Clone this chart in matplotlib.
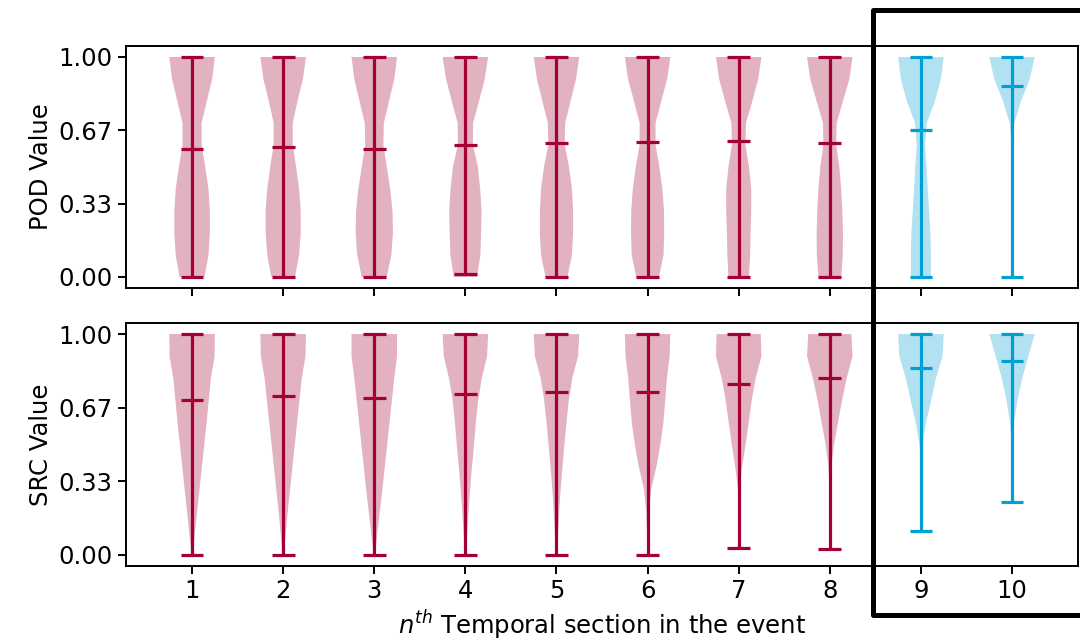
import numpy as np
import matplotlib.pyplot as plt
from matplotlib.lines import Line2D

# temporal sections (x positions)
sections = [1, 2, 3, 4, 5, 6, 7, 8, 9, 10]
levels = [0.0, 0.1, 0.2, 0.3, 0.4, 0.5, 0.6, 0.7, 0.8, 0.9, 1.0]

# POD panel
pod_mean = [0.58, 0.59, 0.58, 0.60, 0.61, 0.615, 0.62, 0.61, 0.67, 0.87]
pod_min = [0.0, 0.0, 0.0, 0.014, 0.0, 0.0, 0.0, 0.0, 0.0, 0.0]
pod_max = [1.0, 1.0, 1.0, 1.0, 1.0, 1.0, 1.0, 1.0, 1.0, 1.0]
pod_shape = [
    [0.55, 0.72, 0.78, 0.78, 0.72, 0.58, 0.42, 0.42, 0.65, 0.88, 1.0],
    [0.52, 0.70, 0.77, 0.77, 0.70, 0.57, 0.42, 0.42, 0.63, 0.87, 1.0],
    [0.55, 0.75, 0.82, 0.80, 0.70, 0.55, 0.40, 0.42, 0.65, 0.88, 1.0],
    [0.51, 0.66, 0.69, 0.71, 0.65, 0.55, 0.33, 0.34, 0.60, 0.85, 1.0],
    [0.48, 0.68, 0.73, 0.73, 0.68, 0.55, 0.36, 0.38, 0.62, 0.86, 1.0],
    [0.50, 0.70, 0.73, 0.72, 0.65, 0.52, 0.35, 0.35, 0.60, 0.86, 1.0],
    [0.45, 0.50, 0.52, 0.55, 0.55, 0.45, 0.30, 0.32, 0.60, 0.86, 1.0],
    [0.50, 0.57, 0.58, 0.55, 0.50, 0.42, 0.28, 0.30, 0.58, 0.86, 1.0],
    [0.44, 0.44, 0.42, 0.36, 0.30, 0.25, 0.18, 0.26, 0.62, 0.88, 1.0],
    [0.0, 0.0, 0.0, 0.0, 0.0, 0.0, 0.02, 0.10, 0.40, 0.78, 1.0],
]

# SRC panel
src_mean = [0.70, 0.72, 0.71, 0.73, 0.74, 0.74, 0.776, 0.80, 0.845, 0.88]
src_min = [0.0, 0.0, 0.0, 0.0, 0.0, 0.0, 0.03, 0.025, 0.11, 0.24]
src_max = [1.0, 1.0, 1.0, 1.0, 1.0, 1.0, 1.0, 1.0, 1.0, 1.0]
src_shape = [
    [0.03, 0.12, 0.22, 0.32, 0.42, 0.52, 0.62, 0.71, 0.80, 0.96, 0.97],
    [0.03, 0.11, 0.20, 0.30, 0.40, 0.50, 0.60, 0.70, 0.80, 0.96, 0.98],
    [0.03, 0.13, 0.24, 0.35, 0.45, 0.55, 0.65, 0.75, 0.85, 0.97, 0.97],
    [0.03, 0.08, 0.14, 0.21, 0.29, 0.38, 0.46, 0.56, 0.72, 0.95, 1.0],
    [0.03, 0.07, 0.12, 0.18, 0.26, 0.34, 0.43, 0.53, 0.68, 0.93, 0.98],
    [0.0, 0.02, 0.06, 0.16, 0.38, 0.55, 0.68, 0.76, 0.83, 0.95, 0.98],
    [0.0, 0.0, 0.01, 0.03, 0.15, 0.30, 0.43, 0.56, 0.73, 0.98, 0.95],
    [0.0, 0.0, 0.0, 0.01, 0.06, 0.18, 0.35, 0.52, 0.72, 0.97, 0.92],
    [0.0, 0.0, 0.0, 0.0, 0.01, 0.06, 0.23, 0.45, 0.66, 0.95, 1.0],
    [0.0, 0.0, 0.0, 0.0, 0.0, 0.02, 0.09, 0.24, 0.45, 0.72, 1.0],
]

red = '#a50034'
blue = '#009fd4'

plt.rcParams.update({'font.size': 17.5,
                     'axes.linewidth': 1.4,
                     'xtick.major.width': 1.4,
                     'ytick.major.width': 1.4,
                     'xtick.major.size': 6,
                     'ytick.major.size': 6})


def draw(ax, means, mins, maxs, shapes):
    for color, idx in [(red, range(0, 8)), (blue, range(8, 10))]:
        stats = []
        for i in idx:
            stats.append({'coords': np.array(levels), 'vals': np.array(shapes[i]),
                          'mean': means[i], 'median': means[i],
                          'min': mins[i], 'max': maxs[i]})
        parts = ax.violin(stats, positions=[sections[i] for i in idx], widths=0.5,
                          showmeans=True, showextrema=True, showmedians=False)
        for body in parts['bodies']:
            body.set_facecolor(color)
            body.set_edgecolor('none')
            body.set_alpha(0.3)
        for key in ['cmeans', 'cmins', 'cmaxes', 'cbars']:
            parts[key].set_color(color)
            parts[key].set_linewidth(2.3)
    ax.set_yticks([0, 1/3, 2/3, 1])
    ax.set_yticklabels(['0.00', '0.33', '0.67', '1.00'])


fig = plt.figure(figsize=(10.8, 6.44), dpi=100)
ax1 = fig.add_axes([0.1167, 0.5528, 0.8815, 0.3758])
ax2 = fig.add_axes([0.1167, 0.1211, 0.8815, 0.3773], sharex=ax1)

draw(ax1, pod_mean, pod_min, pod_max, pod_shape)
draw(ax2, src_mean, src_min, src_max, src_shape)

ax1.tick_params(labelbottom=False)
ax2.set_xticks(sections)
ax1.set_ylabel('POD Value')
ax2.set_ylabel('SRC Value')
ax2.set_xlabel(r'$n^{th}$ Temporal section in the event')

# highlight box round sections 9 and 10
x0 = 873 / 1080
y_top = 1 - 10 / 644
y_bot = 1 - 615 / 644
fig.add_artist(Line2D([1.0, x0, x0, 1.0], [y_top, y_top, y_bot, y_bot],
                      transform=fig.transFigure, color='black', lw=3.6))

plt.savefig('out.png', dpi=100)
